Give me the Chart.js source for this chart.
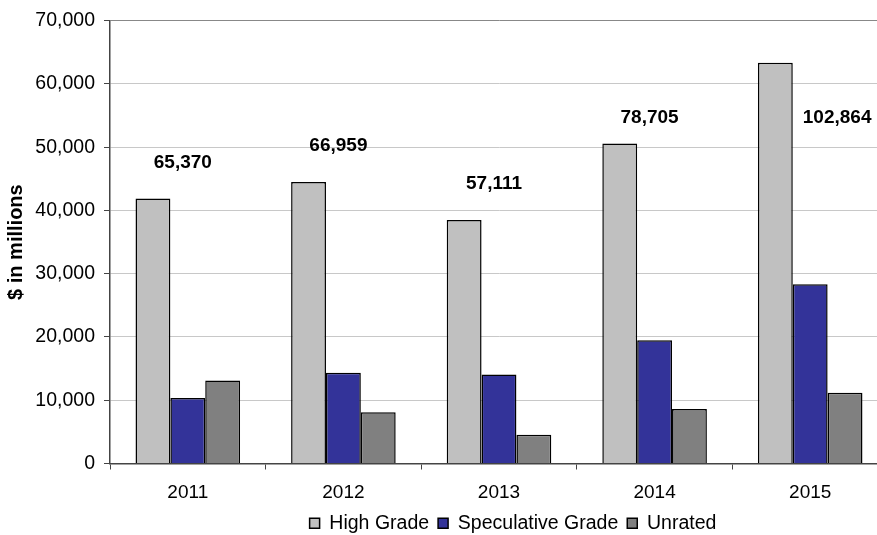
<!DOCTYPE html>
<html>
<head>
<meta charset="utf-8">
<script src="https://cdn.jsdelivr.net/npm/chart.js@4"></script>
<style>
  html, body { margin: 0; padding: 0; background: #fff; overflow: hidden; }
  #wrap { width: 888px; height: 535px; }
</style>
</head>
<body>
<div id="wrap"><canvas id="issuanceChart"></canvas></div>
<script>
// datos
const years = ['2011', '2012', '2013', '2014', '2015'];
const highGrade = [41880, 44500, 38500, 50600, 63350];
const speculativeGrade = [10360, 14350, 14050, 19480, 28330];
const unrated = [13130, 8109, 4561, 8625, 11184];
const totals = [65370, 66959, 57111, 78705, 102864];

Chart.defaults.font.family = '"Liberation Sans", Arial, sans-serif';
Chart.defaults.color = '#000';

// etiquetas de totales sobre cada grupo
const totalsPlugin = {
    id: 'totals',
    afterDatasetsDraw(chart) {
        const ctx = chart.ctx;
        const xScale = chart.scales.x;
        const area = chart.chartArea;
        const meta = chart.getDatasetMeta(0);
        ctx.save();
        ctx.font = 'bold 19px "Liberation Sans", Arial, sans-serif';
        ctx.fillStyle = '#000';
        ctx.textBaseline = 'middle';
        ctx.textAlign = 'center';
        totals.forEach((t, i) => {
            const bar = meta.data[i];
            const text = t.toLocaleString('en-US');
            const w = ctx.measureText(text).width;
            const y = Math.max(bar.y - 36, area.top + 97);
            let x = xScale.getPixelForValue(i) - 5;
            if (bar.y < y + 10) {
                x = bar.x + bar.width / 2 + 10 + w / 2;
            }
            ctx.fillText(text, x, y);
        });
        ctx.restore();
    }
};

// mover la leyenda un poco a la derecha
const legendShift = {
    id: 'legendShift',
    afterLayout(chart) {
        chart.legend.left += 69;
        chart.legend.right += 69;
    }
};

new Chart(document.getElementById('issuanceChart').getContext('2d'), {
    type: 'bar',
    data: {
        labels: years,
        datasets: [
            { label: 'High Grade', data: highGrade, backgroundColor: '#c0c0c0', borderColor: '#000', borderWidth: 1.5 },
            { label: 'Speculative Grade', data: speculativeGrade, backgroundColor: '#333399', borderColor: '#000', borderWidth: 1.5 },
            { label: 'Unrated', data: unrated, backgroundColor: '#808080', borderColor: '#000', borderWidth: 1.5 }
        ]
    },
    options: {
        responsive: true,
        maintainAspectRatio: false,
        animation: false,
        datasets: {
            bar: { categoryPercentage: 0.672, barPercentage: 1.0 }
        },
        layout: { padding: { top: 20, left: 0, right: 0, bottom: -8 } },
        plugins: {
            legend: {
                position: 'bottom',
                labels: {
                    boxWidth: 10,
                    boxHeight: 10,
                    padding: 9,
                    font: { size: 19.5 }
                }
            },
            tooltip: { enabled: false }
        },
        scales: {
            x: {
                grid: { drawOnChartArea: false, tickLength: 6, tickColor: '#444', lineWidth: 1 },
                border: { color: '#444', width: 1.5 },
                ticks: { font: { size: 19 }, padding: 12, maxRotation: 0 },
                afterFit(scale) { scale.height = 41; }
            },
            y: {
                min: 0,
                max: 70000,
                ticks: {
                    stepSize: 10000,
                    font: { size: 19.5 },
                    padding: 9,
                    callback: v => v.toLocaleString('en-US')
                },
                grid: {
                    color: c => (c.tick && c.tick.value === 70000) ? '#888' : '#c8c8c8',
                    tickColor: '#444',
                    tickLength: 6
                },
                border: { color: '#444', width: 1.5 },
                title: {
                    display: true,
                    text: '$ in millions',
                    font: { size: 20, weight: 'bold' },
                    padding: { top: 4, bottom: 0 }
                },
                afterFit(scale) { scale.width = 110; }
            }
        }
    },
    plugins: [totalsPlugin, legendShift]
});
</script>
</body>
</html>
